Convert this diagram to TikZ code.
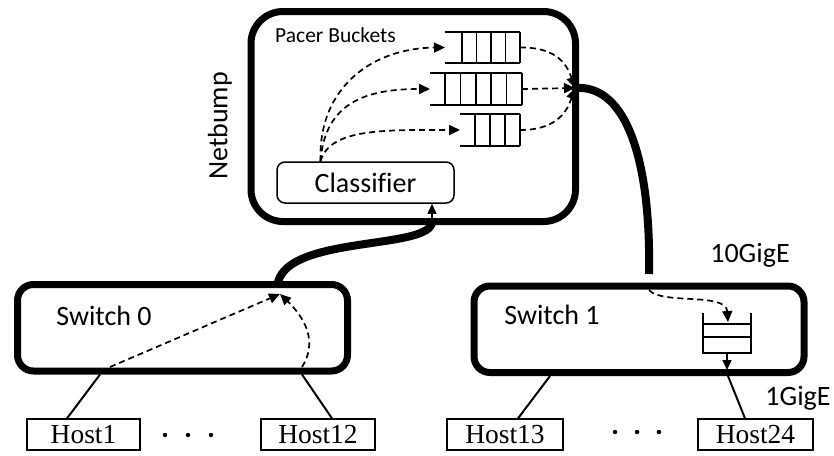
\documentclass[tikz,border=0pt]{standalone}
\usepackage{fontspec}
\setmainfont{Carlito}[Ligatures=NoCommon]
\newfontfamily\hostfont{Liberation Serif}
\usepackage{tikz}
\usetikzlibrary{positioning, arrows.meta}
\newcommand{\LabelFont}{\fontsize{28}{32}\selectfont}
\newcommand{\HostFont}{\hostfont\fontsize{27.5}{30}\selectfont}

\begin{document}
\begin{tikzpicture}[x=1pt, y=-1pt,
    box/.style={draw, line width=7pt, rounded corners=16pt, inner sep=0pt,
        minimum width=330pt, minimum height=86.5pt},
    hostbox/.style={draw, line width=1.2pt, inner sep=0pt, minimum height=31pt, font=\HostFont},
    txt/.style={font=\LabelFont, inner sep=0pt},
    qline/.style={line width=1.5pt},
    flow/.style={line width=1.7pt, dash pattern=on 6pt off 4pt, -{Triangle[length=11pt,width=10pt]}},
    cable/.style={line width=8pt},
    link/.style={line width=2pt}]
    \useasboundingbox (0,0) rectangle (834,455);
    % netbump box
    \node[box, rounded corners=32pt, minimum width=324.5pt, minimum height=210pt] (netbump) at (413.25,116.5) {};
    \node[txt, rotate=90] (nblabel) at (220,126) {Netbump};
    \node[txt, font=\fontsize{21.5}{24}\selectfont, anchor=west] (pacer) at (275,35) {Pacer Buckets};
    \node[draw, line width=1.5pt, rounded corners=8pt, minimum width=177pt, minimum height=41pt,
        font=\LabelFont] (classifier) at (365.5,182.5) {Classifier};
    % pacer buckets
    \draw[qline] (445,32) -- (520,32) (445,63) -- (520,63);
    \foreach \x in {462,476.5,491,505.5,520}
    \draw[qline] (\x,32) -- (\x,63);
    \draw[qline] (430,73) -- (522,73) (430,105) -- (522,105);
    \foreach \x in {445,460.4,475.8,491.2,506.6,522}
    \draw[qline] (\x,73) -- (\x,105);
    \draw[qline] (460,114) -- (520,114) (460,146) -- (520,146);
    \foreach \x in {475,490,505,520}
    \draw[qline] (\x,114) -- (\x,146);
    \coordinate (q1in) at (445,47.5);
    \coordinate (q1out) at (520,47.5);
    \coordinate (q2in) at (430,89);
    \coordinate (q2out) at (522,89);
    \coordinate (q3in) at (460,130);
    \coordinate (q3out) at (520,130);
    \coordinate (merge) at (575,88);
    \coordinate (clsout) at ([xshift=-45pt]classifier.north);
    % classifier to buckets
    \draw[flow] (clsout) .. controls (318,85) and (375,48) .. (q1in);
    \draw[flow] (clsout) .. controls (325,100) and (370,89) .. (q2in);
    \draw[flow] (clsout) .. controls (330,128) and (385,130) .. (q3in);
    % buckets to uplink
    \draw[flow] (q1out) .. controls (560,47) and (568,68) .. (merge);
    \draw[flow] (q2out) -- (merge);
    \draw[flow] (q3out) .. controls (560,130) and (568,108) .. (merge);
    % switches
    \node[box] (sw0) at (182.5,327.75) {};
    \node[txt] (sw0text) at (104,316) {Switch 0};
    \node[box] (sw1) at (639,329.25) {};
    \node[txt] (sw1text) at (552,315) {Switch 1};
    % cables
    \coordinate (cin) at (432,221.5);
    \coordinate (up0) at (278,282);
    \coordinate (up1) at (649,274);
    \draw[cable] (cin) .. controls (432,250) and (290,235) .. (up0);
    \draw[cable] (merge) .. controls (628,84) and (651,165) .. (up1);
    \draw[qline, -{Triangle[length=10pt,width=9pt]}] (cin) -- (cin |- classifier.south);
    % flows in switch 0
    \coordinate (sw0in) at (280,294);
    \coordinate (h1in) at (110,367);
    \coordinate (h12in) at (302,367);
    \draw[flow] (h1in) -- (sw0in);
    \draw[flow] (h12in) .. controls (318,342) and (305,318) .. (sw0in);
    % output queue in switch 1
    \draw[qline] (703,313) -- (703,353) -- (751,353) -- (751,313);
    \foreach \y in {324,337}
    \draw[qline] (703,\y) -- (751,\y);
    \coordinate (sqin) at (728,322);
    \coordinate (sqout) at (727,353);
    \draw[flow] ([yshift=-16pt]up1) .. controls (662,305) and (726,292) .. (sqin);
    \draw[qline, -{Triangle[length=10pt,width=9pt]}] (sqout) -- ++(0,17);
    % hosts
    \node[hostbox, minimum width=113pt] (host1) at (83.5,434.5) {Host1};
    \node[hostbox, minimum width=114pt] (host12) at (318,434.5) {Host12};
    \node[hostbox, minimum width=116pt] (host13) at (505,434.5) {Host13};
    \node[hostbox, minimum width=115pt] (host24) at (755.5,434.5) {Host24};
    \draw[link] ([xshift=-82.5pt]sw0.south) -- ([xshift=-16.5pt]host1.north);
    \draw[link] ([xshift=119.5pt]sw0.south) -- ([xshift=14pt]host12.north);
    \draw[link] ([xshift=-89pt]sw1.south) -- ([xshift=13pt]host13.north);
    \draw[link] ([xshift=89pt]sw1.south) -- ([xshift=-10.5pt]host24.north);
    \foreach \x in {165,188,211}
    \fill (\x,435) circle (2.2pt);
    \foreach \x in {615,637,659}
    \fill (\x,432) circle (2.2pt);
    % link speeds
    \node[txt] (tengig) at (750,255) {10GigE};
    \node[txt] (onegig) at (798,398) {1GigE};
\end{tikzpicture}
\end{document}
